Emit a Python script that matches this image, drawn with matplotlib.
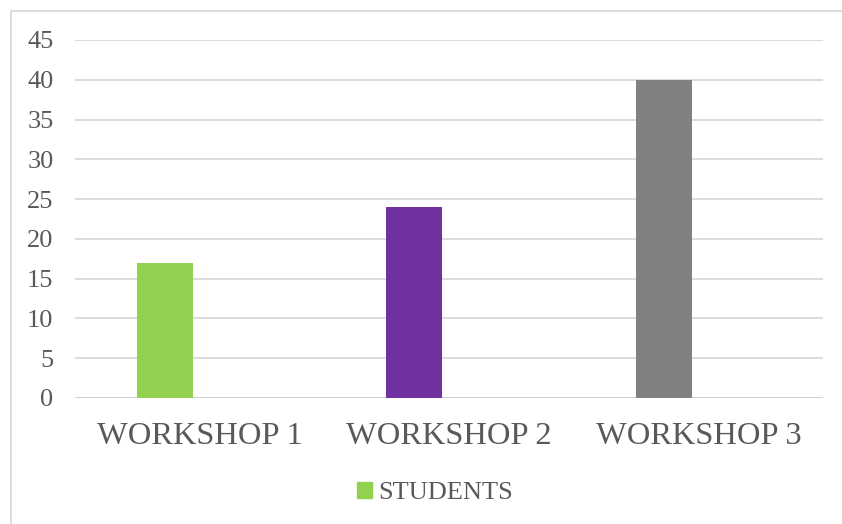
import matplotlib.pyplot as plt
import matplotlib.patches as mpatches
import numpy as np

categories = ['WORKSHOP 1', 'WORKSHOP 2', 'WORKSHOP 3']
students = [17, 24, 40]
bar_colors = ['#92d050', '#7030a0', '#808080']
yticks = [0, 5, 10, 15, 20, 25, 30, 35, 40, 45]

plt.rcParams['font.family'] = ['Liberation Serif', 'DejaVu Serif']
txt = '#595959'
grid = '#d9d9d9'

fig = plt.figure(figsize=(8.42, 5.24), dpi=100)
ax = fig.add_axes([75/842, 1-398/524, (823-75)/842, (398-40)/524])

x = np.arange(len(categories))
ax.bar(x - 0.139, students, width=0.225, color=bar_colors, zorder=3)

ax.set_xlim(-0.5, 2.5)
ax.set_ylim(0, 45)
ax.set_yticks(yticks)
ax.set_xticks(x)
ax.set_xticklabels(categories)
for s in ax.spines.values():
    s.set_visible(False)
ax.yaxis.grid(True, color=grid, linewidth=1.3, zorder=0)
ax.axhline(0, color='#d0d0d0', linewidth=1.3, zorder=2)
ax.tick_params(axis='both', length=0, colors=txt)
ax.tick_params(axis='y', pad=15.5, labelsize=19)
ax.tick_params(axis='x', pad=17, labelsize=23.4)

# legend
h = mpatches.Patch(color=bar_colors[0], label='STUDENTS')
fig.legend(handles=[h], loc='center', bbox_to_anchor=(435/842, 1-493/524),
           frameon=False, fontsize=19, labelcolor=txt, handlelength=0.55,
           handleheight=0.55, handletextpad=0.25)

# chart border
fig.patches.append(mpatches.Rectangle((10.5/842, -0.1), 1, 1.1 - 11.5/524,
                                      transform=fig.transFigure, fill=False,
                                      edgecolor=grid, linewidth=1.3))

fig.savefig('out.png', dpi=100)
